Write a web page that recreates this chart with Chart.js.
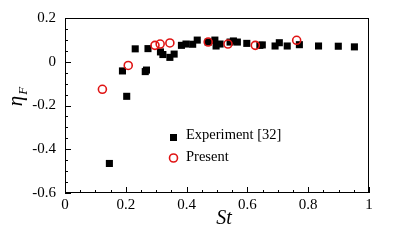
<!DOCTYPE html>
<html>
<head>
<meta charset="utf-8">
<script src="https://cdn.jsdelivr.net/npm/chart.js@4/dist/chart.umd.min.js"></script>
<style>
  html, body { margin: 0; padding: 0; background: #fff; }
  #wrap { width: 407px; height: 246px; }
</style>
</head>
<body>
<div id="wrap"><canvas id="chart"></canvas></div>
<script>
// Experiment [32]
const expSt = [0.146, 0.189, 0.203, 0.231, 0.264, 0.268, 0.273, 0.314, 0.322, 0.345, 0.359,
  0.383, 0.398, 0.420, 0.435, 0.471, 0.493, 0.497, 0.510, 0.543, 0.554, 0.567, 0.598,
  0.641, 0.649, 0.691, 0.705, 0.731, 0.771, 0.834, 0.899, 0.952];
const expEta = [-0.465, -0.042, -0.158, 0.059, -0.045, -0.038, 0.060, 0.045, 0.033, 0.020, 0.035,
  0.075, 0.081, 0.080, 0.099, 0.090, 0.099, 0.072, 0.081, 0.090, 0.095, 0.090, 0.084,
  0.075, 0.077, 0.072, 0.087, 0.072, 0.078, 0.072, 0.071, 0.068];

// Present
const preSt = [0.123, 0.208, 0.296, 0.313, 0.345, 0.471, 0.536, 0.626, 0.762];
const preEta = [-0.126, -0.017, 0.075, 0.081, 0.086, 0.090, 0.081, 0.075, 0.098];

const xTickLabels = ["0", "0.2", "0.4", "0.6", "0.8", "1"];
const yTickLabels = ["-0.6", "-0.4", "-0.2", "0", "0.2"];

const serif = "'Liberation Serif', 'DejaVu Serif', serif";
const red = "#e01414";

function toPoints(xs, ys) {
  return xs.map((x, i) => ({ x: x, y: ys[i] }));
}

// frame, inward ticks, axis titles and legend
const decorations = {
  id: "decorations",
  afterDraw(chart) {
    const ctx = chart.ctx;
    const a = chart.chartArea;
    const xs = chart.scales.x;
    const ys = chart.scales.y;
    ctx.save();
    ctx.strokeStyle = "#000";
    ctx.lineWidth = 1;
    ctx.strokeRect(a.left + 0.5, a.top + 0.5, a.right - a.left - 1, a.bottom - a.top - 1);

    ctx.beginPath();
    for (let i = 0; i <= 20; i++) {
      const px = Math.round(xs.getPixelForValue(i * 0.05)) + 0.5;
      const len = i % 4 === 0 ? 6 : 3;
      ctx.moveTo(px, a.bottom);
      ctx.lineTo(px, a.bottom - len);
    }
    for (let i = 0; i <= 16; i++) {
      const py = Math.round(ys.getPixelForValue(-0.6 + i * 0.05)) + 0.5;
      const len = i % 4 === 0 ? 6 : 3;
      ctx.moveTo(a.left, py);
      ctx.lineTo(a.left + len, py);
    }
    ctx.stroke();

    // x title
    ctx.fillStyle = "#000";
    ctx.textAlign = "center";
    ctx.textBaseline = "alphabetic";
    ctx.font = "italic 20px " + serif;
    ctx.fillText("St", 224, 224);

    // y title with subscript
    ctx.save();
    ctx.translate(22, 97);
    ctx.rotate(-Math.PI / 2);
    ctx.textAlign = "left";
    ctx.font = "italic 21px " + serif;
    const w = ctx.measureText("η").width;
    ctx.fillText("η", -w / 2 - 4, 0);
    ctx.font = "italic 13px " + serif;
    ctx.fillText("F", w / 2 - 3, 5);
    ctx.restore();

    // legend
    ctx.font = "14.5px " + serif;
    ctx.textAlign = "left";
    ctx.textBaseline = "alphabetic";
    ctx.fillStyle = "#000";
    ctx.fillRect(170, 134, 7, 7);
    ctx.fillText("Experiment [32]", 186, 139);
    ctx.beginPath();
    ctx.strokeStyle = red;
    ctx.lineWidth = 1.6;
    ctx.arc(173.5, 158, 4, 0, Math.PI * 2);
    ctx.stroke();
    ctx.fillText("Present", 186, 161);
    ctx.restore();
  }
};

new Chart(document.getElementById("chart"), {
  type: "scatter",
  data: {
    datasets: [
      {
        label: "Experiment [32]",
        data: toPoints(expSt, expEta),
        pointStyle: "rect",
        pointRadius: 5,
        backgroundColor: "#000",
        borderColor: "#000",
        borderWidth: 0,
        order: 1,
      },
      {
        label: "Present",
        data: toPoints(preSt, preEta),
        pointStyle: "circle",
        pointRadius: 4,
        backgroundColor: "rgba(0,0,0,0)",
        borderColor: red,
        borderWidth: 1.6,
        order: 0,
      },
    ],
  },
  options: {
    responsive: true,
    maintainAspectRatio: false,
    animation: false,
    layout: { padding: { top: 15, right: 38, left: 0, bottom: 0 } },
    plugins: {
      legend: { display: false },
      tooltip: { enabled: false },
    },
    scales: {
      x: {
        type: "linear",
        min: 0,
        max: 1,
        afterFit: (s) => { s.height = 53; },
        grid: { display: false, drawTicks: false },
        border: { display: false },
        ticks: {
          stepSize: 0.2,
          padding: 3,
          color: "#000",
          font: { family: serif, size: 15 },
          maxRotation: 0,
          callback: (v, i) => xTickLabels[i],
        },
      },
      y: {
        type: "linear",
        min: -0.6,
        max: 0.2,
        afterFit: (s) => { s.width = 65; },
        grid: { display: false, drawTicks: false },
        border: { display: false },
        ticks: {
          stepSize: 0.2,
          padding: 9,
          color: "#000",
          font: { family: serif, size: 15 },
          callback: (v, i) => yTickLabels[i],
        },
      },
    },
  },
  plugins: [decorations],
});
</script>
</body>
</html>
